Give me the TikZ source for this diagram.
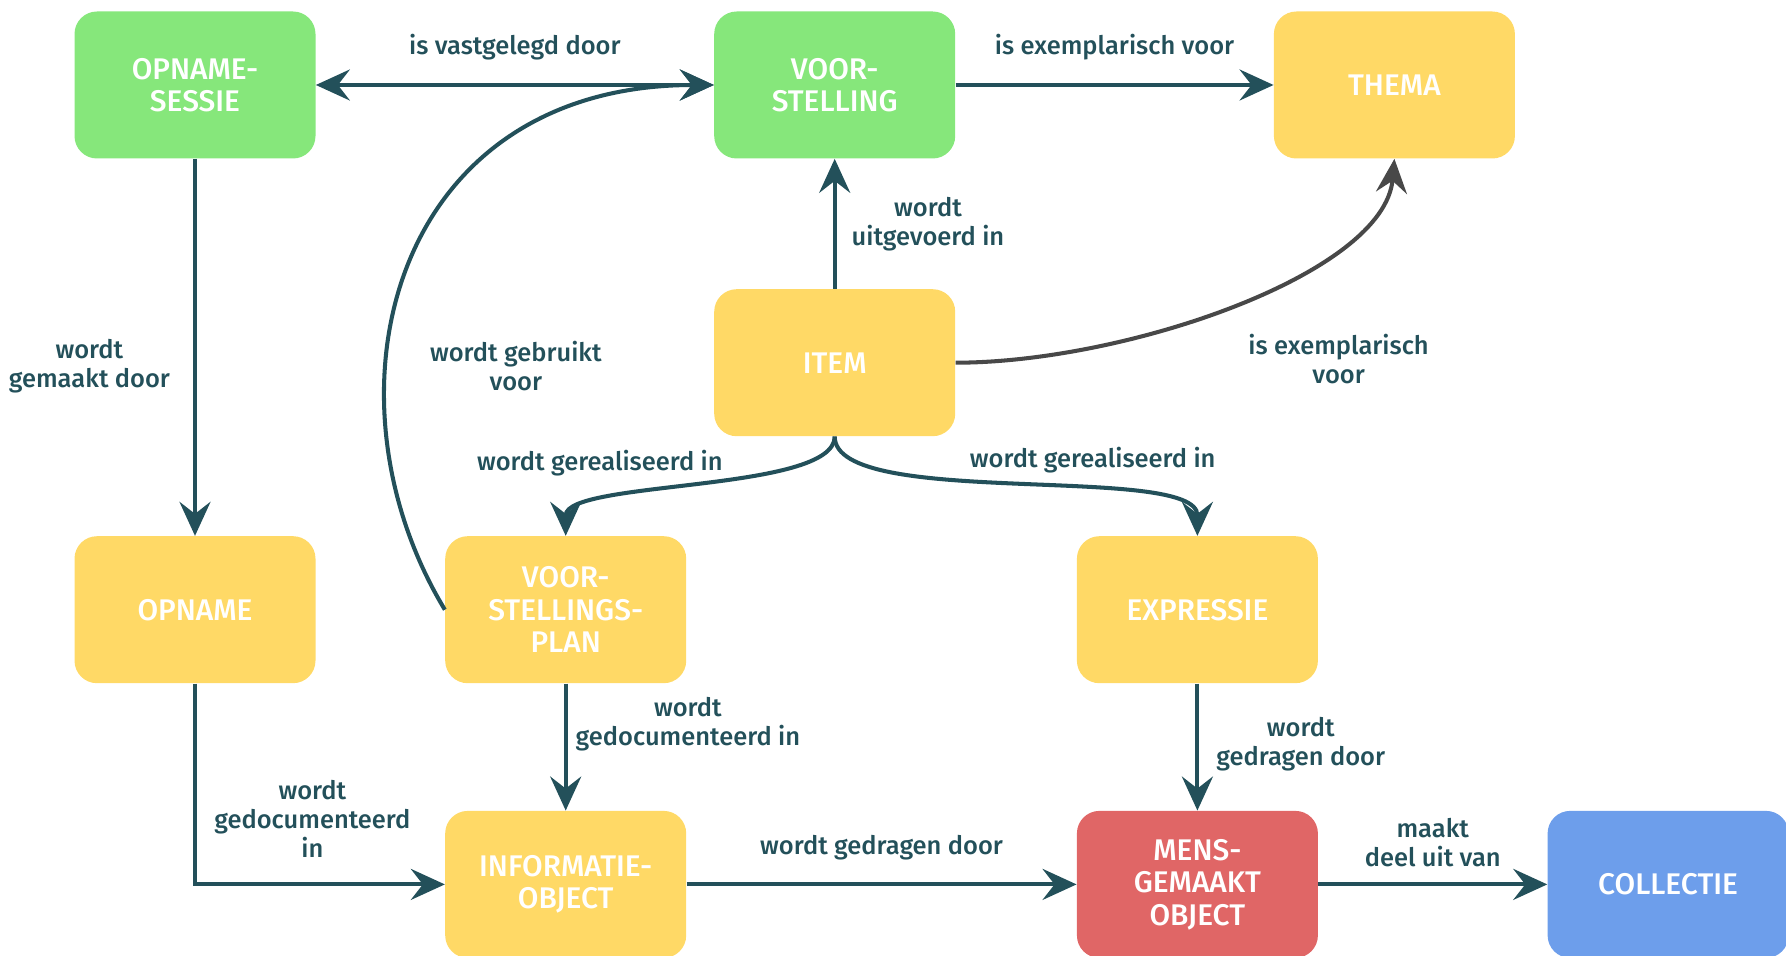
\documentclass[tikz,border=0pt]{standalone}
\usepackage{fontspec}
\setmainfont{Fira Sans}[BoldFont={Fira Sans Medium}]
\usetikzlibrary{arrows.meta, positioning}
\definecolor{groen}{RGB}{134,231,123}
\definecolor{geel}{RGB}{255,217,102}
\definecolor{rood}{RGB}{224,102,102}
\definecolor{blauw}{RGB}{109,158,235}
\definecolor{petrol}{RGB}{35,80,90}
\definecolor{grijs}{RGB}{72,72,72}
\begin{document}
\begin{tikzpicture}[>={Stealth[length=0.68cm, width=0.62cm, inset=0.24cm]},
    box/.style={rectangle, rounded corners=0.45cm, minimum width=4.82cm, minimum height=2.94cm, align=center, text=white, font=\fontsize{17}{18.5}\selectfont\bfseries},
    rel/.style={draw=petrol, line width=2.3pt, ->},
    lbl/.style={text=petrol, align=center, inner sep=0pt, font=\fontsize{14.5}{16.5}\selectfont\bfseries}]
                \useasboundingbox (0,0) rectangle (35.72,-19.12);
                \node[box, fill=groen] (sessie) at (3.9,-1.7) {OPNAME-\\SESSIE};
                \node[box, fill=groen, right=7.96cm of sessie] (voorstelling) {VOOR-\\STELLING};
                \node[box, fill=geel, right=6.36cm of voorstelling] (thema) {THEMA};
                \node[box, fill=geel, below=2.6cm of voorstelling] (item) {ITEM};
                \node[box, fill=geel, below=7.54cm of sessie] (opname) {OPNAME};
                \node[box, fill=geel, right=2.58cm of opname] (vsp) {VOOR-\\STELLINGS-\\PLAN};
                \node[box, fill=geel, right=7.8cm of vsp] (expressie) {EXPRESSIE};
                \node[box, fill=geel, below=2.54cm of vsp] (info) {INFORMATIE-\\OBJECT};
                \node[box, fill=rood, below=2.54cm of expressie] (mens) {MENS-\\GEMAAKT\\OBJECT};
                \node[box, fill=blauw, right=4.58cm of mens] (collectie) {COLLECTIE};
                \draw[rel, <->] (sessie.east) -- node[lbl, above=0.45cm] {is vastgelegd door} (voorstelling.west);
                \draw[rel] (voorstelling.east) -- node[lbl, above=0.45cm] {is exemplarisch voor} (thema.west);
                \draw[rel] (item.north) -- node[lbl, right=0.3cm] {wordt\\uitgevoerd in} (voorstelling.south);
                \draw[rel, draw=grijs] (item.east) .. controls +(3.4,0) and +(-0.2,-2.3) .. node[lbl, pos=0.6, xshift=1.08cm, yshift=-1.57cm] {is exemplarisch\\voor} (thema.south);
                \draw[rel] (sessie.south) -- node[lbl, pos=0.55, left=0.46cm] {wordt\\gemaakt door} (opname.north);
                \draw[rel] (vsp.west) .. controls +(-2.6,4.3) and +(-6.46,0) .. node[lbl, pos=0.35, xshift=2.6cm] {wordt gebruikt\\voor} (voorstelling.west);
                \draw[rel] (item.south) to[out=-90, in=90, looseness=0.5] node[lbl, pos=0.42, anchor=south east, xshift=-0.15cm, yshift=0.05cm] {wordt gerealiseerd in} (vsp.north);
                \draw[rel] (item.south) to[out=-90, in=90, looseness=0.5] node[lbl, pos=0.42, anchor=south west, xshift=-0.1cm, yshift=0.15cm] {wordt gerealiseerd in} (expressie.north);
                \draw[rel] (opname.south) |- node[lbl, pos=0.75, above=0.49cm, xshift=-0.15cm] {wordt\\gedocumenteerd\\in} (info.west);
                \draw[rel] (vsp.south) -- node[lbl, pos=0.32, right=0.16cm] {wordt\\gedocumenteerd in} (info.north);
                \draw[rel] (expressie.south) -- node[lbl, pos=0.48, right=0.34cm] {wordt\\gedragen door} (mens.north);
                \draw[rel] (info.east) -- node[lbl, above=0.45cm] {wordt gedragen door} (mens.west);
                \draw[rel] (mens.east) -- node[lbl, above=0.32cm] {maakt\\deel uit van} (collectie.west);
            \end{tikzpicture}
\end{document}
